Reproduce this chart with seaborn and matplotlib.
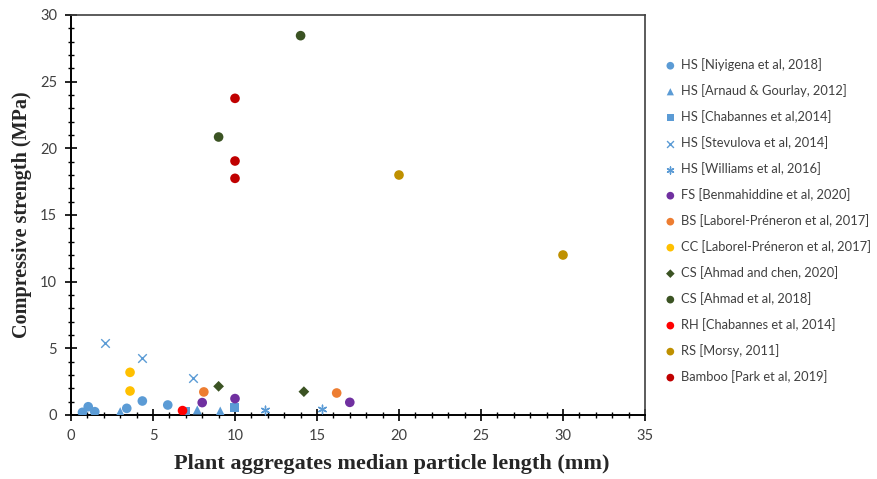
import matplotlib
matplotlib.use("Agg")
import matplotlib.pyplot as plt
import seaborn as sns
import pandas as pd

# series labels, in legend order
labels = [
    "HS [Niyigena et al, 2018]",
    "HS [Arnaud & Gourlay, 2012]",
    "HS [Chabannes et al,2014]",
    "HS [Stevulova et al, 2014]",
    "HS [Williams et al, 2016]",
    "FS [Benmahiddine et al, 2020]",
    "BS [Laborel-Préneron et al, 2017]",
    "CC [Laborel-Préneron et al, 2017]",
    "CS [Ahmad and chen, 2020]",
    "CS [Ahmad et al, 2018]",
    "RH [Chabannes et al, 2014]",
    "RS [Morsy, 2011]",
    "Bamboo [Park et al, 2019]",
]

# particle length (mm) and compressive strength (MPa) per series
length = [
    [0.7, 1.05, 1.45, 3.4, 4.35, 5.9],
    [3.0, 7.7, 9.1],
    [7.0, 9.95],
    [2.1, 4.35, 7.45],
    [11.8, 15.3],
    [8.0, 10.0, 17.0],
    [8.1, 16.2],
    [3.6, 3.6],
    [9.0, 14.2],
    [9.0, 14.0],
    [6.8],
    [20.0, 30.0],
    [10.0, 10.0, 10.0],
]
strength = [
    [0.2, 0.62, 0.25, 0.5, 1.05, 0.75],
    [0.25, 0.38, 0.3],
    [0.3, 0.57],
    [5.38, 4.25, 2.75],
    [0.38, 0.42],
    [0.93, 1.23, 0.95],
    [1.73, 1.65],
    [3.2, 1.8],
    [2.15, 1.75],
    [20.85, 28.45],
    [0.33],
    [18.0, 12.0],
    [23.75, 19.05, 17.75],
]

colors = ["#5B9BD5", "#5B9BD5", "#5B9BD5", "#5B9BD5", "#5B9BD5", "#7030A0",
          "#ED7D31", "#FFC000", "#3B5323", "#3B5323", "#FF0000", "#BF9000", "#C00000"]
markers = ["o", "^", "s", "x", (6, 2, 0), "o", "o", "o", "D", "o", "o", "o", "o"]
sizes = [48, 42, 40, 38, 38, 48, 48, 48, 30, 48, 48, 48, 48]

sns.set_style("white")
plt.rcParams["font.family"] = ["Lato", "DejaVu Sans"]

fig = plt.figure(figsize=(8.77, 4.79), dpi=100)
ax = fig.add_axes([71 / 877, 1 - 415 / 479, 574 / 877, 400 / 479])

for lab, xs, ys, c, m, s in zip(labels, length, strength, colors, markers, sizes):
    df = pd.DataFrame({"x": xs, "y": ys})
    if m in ("x", (6, 2, 0)):
        sns.scatterplot(data=df, x="x", y="y", ax=ax, marker=m, color=c, s=s,
                        linewidth=1.0, label=lab, zorder=3)
    else:
        sns.scatterplot(data=df, x="x", y="y", ax=ax, marker=m, color=c, s=s,
                        edgecolor="none", linewidth=0, label=lab, zorder=3)

ax.set_xlim(0, 35)
ax.set_ylim(0, 30)
ax.set_xticks(range(0, 36, 5))
ax.set_yticks(range(0, 31, 5))
ax.set_xticks(range(0, 36), minor=True)
ax.set_yticks(range(0, 31), minor=True)
ax.tick_params(which="major", direction="inout", length=8, width=1.2, color="black",
               labelsize=10.5, labelcolor="#404040", bottom=True, left=True, pad=6)
ax.tick_params(which="minor", direction="inout", length=5, width=1.0, color="black",
               bottom=True, left=True)

for side in ["bottom", "left"]:
    ax.spines[side].set_color("black")
    ax.spines[side].set_linewidth(1.4)
for side in ["top", "right"]:
    ax.spines[side].set_color("#404040")
    ax.spines[side].set_linewidth(1.2)

ax.set_xlabel("Plant aggregates median particle length (mm)", family="Liberation Serif",
              fontweight="bold", fontsize=16)
ax.xaxis.set_label_coords((392 - 71) / 574, -0.098)
ax.set_ylabel("Compressive strength (MPa)", family="Liberation Serif",
              fontweight="bold", fontsize=14.5, labelpad=6)

leg = ax.legend(loc="upper left", bbox_to_anchor=(660 / 877, 1 - 53 / 479),
                bbox_transform=fig.transFigure, frameon=False, fontsize=9.3,
                handlelength=0.8, handletextpad=0.4, labelspacing=1.01,
                borderaxespad=0, markerscale=0.8)
for t in leg.get_texts():
    t.set_color("#404040")

fig.savefig("out.png", dpi=100)
